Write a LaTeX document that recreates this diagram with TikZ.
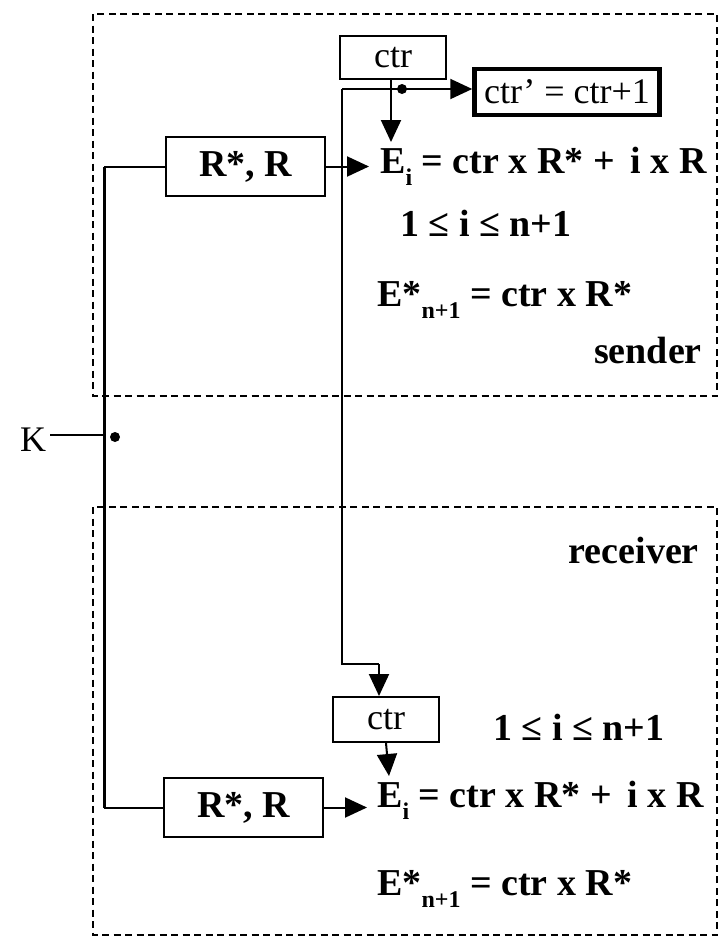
\documentclass[tikz,border=0pt]{standalone}
\usepackage{fontspec}
\setmainfont{Liberation Serif}
\usetikzlibrary{arrows.meta}
\newcommand{\bt}{\fontsize{38}{44}\selectfont\bfseries}
\newcommand{\rt}{\fontsize{36}{42}\selectfont}
\newcommand{\sbs}[1]{\raisebox{-0.32em}{\fontsize{24}{26}\selectfont #1}}
\begin{document}
\begin{tikzpicture}[x=1pt,y=-1pt,
  wire/.style={line width=2pt},
  bus/.style={line width=3pt},
  arr/.style={wire,-{Triangle[length=22pt,width=20pt]}},
  frame/.style={line width=1.6pt,dash pattern=on 7pt off 4.5pt},
  box/.style={draw,line width=2pt,inner sep=0pt},
  txt/.style={inner sep=0pt,anchor=base west}]
\useasboundingbox (0,0) rectangle (726,937);
% frames
\draw[frame] (93,14) rectangle (717,396);
\draw[frame] (93,507) rectangle (717,935);
% sender
\node[box,minimum width=106pt,minimum height=43pt,font=\rt] (ctrA) at (393,57.5) {ctr};
\node[box,line width=4.5pt,minimum width=185pt,minimum height=46pt,font=\rt] (ctrP) at (567,92) {ctr’ = ctr+1};
\node[box,minimum width=159pt,minimum height=59pt,font=\bt] (RA) at (245.5,166.5) {R*, R};
\node[txt] (EA) at (380,173) {\bt E\sbs{i} = ctr x R* +\, i x R};
\node[txt] (IA) at (400,236) {\bt 1 ≤ i ≤ n+1};
\node[txt] (SA) at (377,306) {\bt E*\sbs{n+1} = ctr x R*};
\node[inner sep=0pt,anchor=base east] (send) at (702,363) {\bt sender};
% receiver
\node[inner sep=0pt,anchor=base east] (recv) at (699,563) {\bt receiver};
\node[box,minimum width=106pt,minimum height=45pt,font=\rt] (ctrB) at (386,719.5) {ctr};
\node[txt] (IB) at (493,740) {\bt 1 ≤ i ≤ n+1};
\node[box,minimum width=159pt,minimum height=59pt,font=\bt] (RB) at (243.5,807.5) {R*, R};
\node[txt] (EB) at (377,807) {\bt E\sbs{i} = ctr x R* +\, i x R};
\node[txt] (SB) at (377,895) {\bt E*\sbs{n+1} = ctr x R*};
% K and bus
\node[font=\rt,inner sep=0pt] (K) at (33,440) {K};
\coordinate (busT) at (104,166.5);
\coordinate (busB) at (104,807.5);
\coordinate (busK) at (104,435);
\draw[bus] (busT) -- (busB);
\draw[wire] (RA.west) -- (busT);
\draw[wire] (RB.west) -- (busB);
\draw[wire] (K.east |- busK) ++(4,0) -- (busK);
\fill (115,437) circle (5pt);
% arrows into E
\draw[arr] (RA.east) -- (369,166.5);
\draw[arr] (RB.east) -- (367,807.5);
\draw[arr] (391,79) -- (391,142);
\draw[arr] (ctrB.south) -- (389,776);
% feedback
\coordinate (fbT) at (342,89);
\coordinate (fbB) at (342,664);
\coordinate (fbR) at (379,664);
\draw[arr] (fbT) -- (ctrP.west |- fbT);
\fill (402,89) circle (5pt);
\draw[wire] (fbT) -- (fbB) -- (fbR);
\draw[arr] (fbR) -- (ctrB.north -| fbR);
\end{tikzpicture}
\end{document}
